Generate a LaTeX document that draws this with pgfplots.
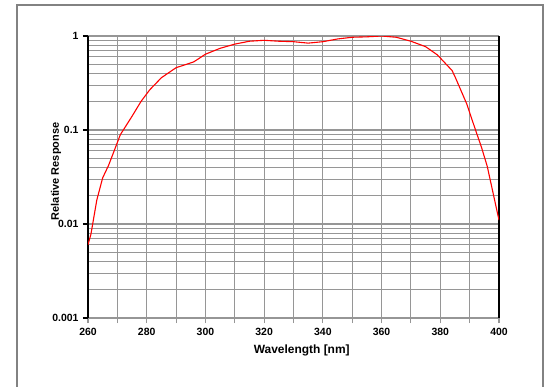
\documentclass[border=0pt]{standalone}
\usepackage{fontspec}
\setmainfont{Liberation Sans}
\usepackage{pgfplots}
\pgfplotsset{compat=1.18}
\definecolor{gridgray}{RGB}{150,150,150}
\definecolor{framegray}{RGB}{130,130,130}
\begin{document}
\begin{tikzpicture}
\useasboundingbox (0,0) rectangle (548bp,387bp);
\draw[framegray, line width=1.2bp] (17bp,-2bp) -- (17bp,382bp) -- (543bp,382bp) -- (543bp,-2bp);
\begin{axis}[
  at={(88bp,69bp)}, anchor=south west,
  scale only axis, width=411bp, height=282bp,
  ymode=log, xmin=260, xmax=400, ymin=0.001, ymax=1,
  xtick={260,280,...,400}, minor xtick={270,290,...,390},
  ytick={0.001,0.01,0.1,1},
  yticklabels={0.001,0.01,0.1,1},
  minor ytick={0.002,0.003,0.004,0.005,0.006,0.007,0.008,0.009,
               0.02,0.03,0.04,0.05,0.06,0.07,0.08,0.09,
               0.2,0.3,0.4,0.5,0.6,0.7,0.8,0.9},
  grid=both,
  major grid style={gridgray, line width=1.1bp},
  minor grid style={gridgray, line width=1.1bp},
  separate axis lines,
  x axis line style={gridgray, line width=1.1bp},
  y axis line style={black, line width=1.6bp},
  tick align=outside,
  major tick length=5bp,
  minor tick length=5bp,
  xtick pos=bottom, ytick pos=left,
  x tick style={gridgray, line width=1.1bp},
  y tick style={black, line width=1.1bp},
  minor y tick style={draw=none},
  tick label style={font=\fontsize{10.5}{12}\selectfont\bfseries},
  /pgf/number format/assume math mode=true,
  xticklabel style={yshift=-2bp},
  yticklabel style={xshift=-1bp},
  xlabel={Wavelength [nm]},
  ylabel={Relative Response},
  xlabel style={font=\fontsize{12}{14}\selectfont\bfseries, at={(axis description cs:0.52,0)}, anchor=north, yshift=-23bp},
  ylabel style={font=\fontsize{11}{13}\selectfont\bfseries, at={(axis description cs:-0.078,0.52)}, anchor=center},
]
\addplot[red, line width=1.1bp] coordinates {
(260,0.006) (261,0.0078) (263,0.018) (265,0.031) (267,0.042) (269,0.061)
(271,0.089) (275,0.14) (278,0.2) (281,0.267) (285,0.36) (290,0.46)
(296,0.53) (300,0.64) (305,0.74) (310,0.82) (315,0.88) (320,0.90)
(325,0.88) (330,0.87) (335,0.84) (340,0.87) (345,0.93) (350,0.97)
(355,0.98) (360,1.0) (365,0.97) (370,0.88) (375,0.77) (379,0.63)
(384,0.43) (385,0.37) (389,0.19) (392,0.1) (394,0.066) (396,0.041)
(398.5,0.018) (400,0.011)
};
\end{axis}
\end{tikzpicture}
\end{document}
